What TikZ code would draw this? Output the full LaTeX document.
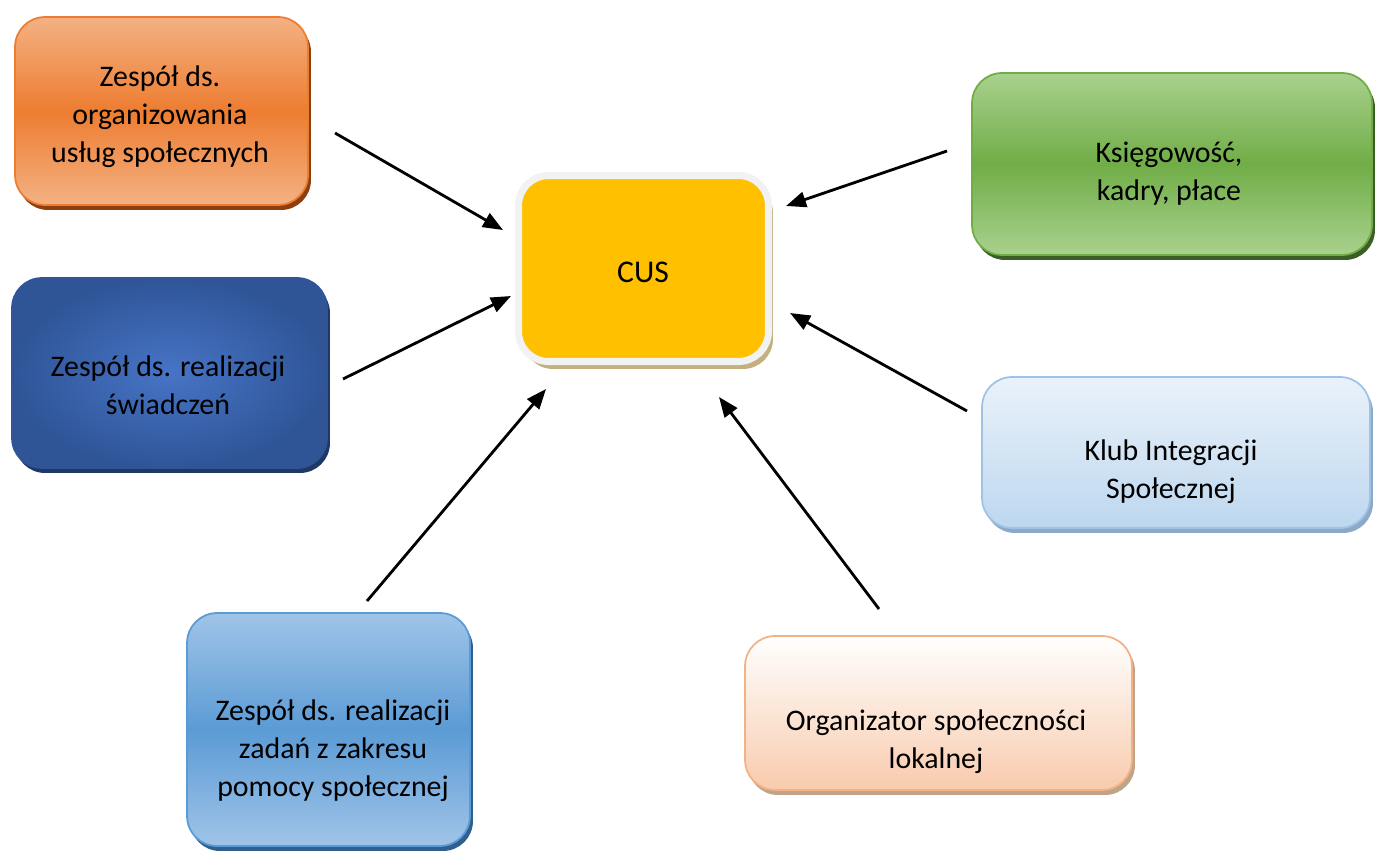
\documentclass[tikz,border=0pt]{standalone}
\usepackage{fontspec}
\setmainfont{Carlito}
\usetikzlibrary{arrows.meta,shadows}

\definecolor{orgmid}{HTML}{ED7D31}
\definecolor{orglight}{HTML}{F4B183}
\definecolor{orgshadow}{HTML}{8E3F10}
\definecolor{cusfill}{HTML}{FFC000}
\definecolor{cusrim}{HTML}{F2F2F2}
\definecolor{cusshadow}{HTML}{C3B07E}
\definecolor{greenmid}{HTML}{70AD47}
\definecolor{greenlight}{HTML}{A9D18E}
\definecolor{greenshadow}{HTML}{3B5E26}
\definecolor{navyin}{HTML}{4774C6}
\definecolor{navyout}{HTML}{2F5597}
\definecolor{navyshadow}{HTML}{1F3864}
\definecolor{skytop}{HTML}{EAF2FA}
\definecolor{skybot}{HTML}{BDD7EE}
\definecolor{skyrim}{HTML}{9DC3E6}
\definecolor{skyshadow}{HTML}{8EA9C7}
\definecolor{bluemid}{HTML}{5B9BD5}
\definecolor{bluelight}{HTML}{A0C4E8}
\definecolor{blueshadow}{HTML}{2F5F8F}
\definecolor{peachbot}{HTML}{F8CBAD}
\definecolor{peachshadow}{HTML}{BFA38A}

\tikzset{
	box/.style={rectangle, rounded corners=0.6cm, line width=1pt},
	boxshadow/.style={drop shadow={shadow xshift=0.06cm, shadow yshift=-0.1cm, fill=#1, opacity=1}},
	txt/.style={align=center, inner sep=0pt, font=\fontsize{17}{21.5}\selectfont},
	arr/.style={-{Triangle[length=0.4cm,width=0.31cm]}, line width=1.6pt},
}

\begin{document}
\begin{tikzpicture}[x=0.02cm,y=-0.02cm]
	\useasboundingbox (0,0) rectangle (1375,852);
	
	% boxes
	\node[box, boxshadow=orgshadow, draw=orgmid, top color=orglight, bottom color=orglight, middle color=orgmid, minimum width=5.86cm, minimum height=3.76cm] (org) at (161.5,111) {};
	\node[txt] (orgtxt) at (160,116.5) {Zespół ds.\\organizowania\\usług społecznych};
	
	\node[box, drop shadow={shadow xshift=0.09cm, shadow yshift=-0.15cm, fill=cusshadow, opacity=1}, draw=cusrim, line width=4pt, fill=cusfill, minimum width=5.0cm, minimum height=3.72cm] (cus) at (643.5,268.5) {};
	\node[txt, font=\fontsize{18}{22}\selectfont] (custxt) at (643,272) {CUS};
	
	\node[box, boxshadow=greenshadow, draw=greenmid, top color=greenlight, bottom color=greenlight, middle color=greenmid, minimum width=8.0cm, minimum height=3.64cm] (ksi) at (1172,164) {};
	\node[txt] (ksitxt) at (1169,173.5) {Księgowość,\\kadry, płace};
	
	\node[box, boxshadow=navyshadow, draw=navyout, inner color=navyin, outer color=navyout, minimum width=6.3cm, minimum height=3.8cm] (swi) at (169.5,373) {};
	\node[txt] (switxt) at (168,385) {Zespół ds. realizacji\\świadczeń};
	
	\node[box, boxshadow=skyshadow, draw=skyrim, top color=skytop, bottom color=skybot, minimum width=7.76cm, minimum height=3.02cm] (kis) at (1176,452.5) {};
	\node[txt] (kistxt) at (1171,471.5) {Klub Integracji\\Społecznej};
	
	\node[box, boxshadow=blueshadow, draw=bluemid, top color=bluelight, bottom color=bluelight, middle color=bluemid, minimum width=5.66cm, minimum height=4.66cm] (pom) at (328.5,729.5) {};
	\node[txt] (pomtxt) at (333,750.5) {Zespół ds. realizacji\\zadań z zakresu\\pomocy społecznej};
	
	\node[box, boxshadow=peachshadow, draw=orglight, top color=white, bottom color=peachbot, minimum width=7.74cm, minimum height=3.08cm] (osl) at (938.5,713) {};
	\node[txt] (osltxt) at (936,741.5) {Organizator społeczności\\lokalnej};
	
	% arrow ends
	\coordinate (orgA) at (335,133);  \coordinate (orgB) at (503,230);
	\coordinate (ksiA) at (947,151);  \coordinate (ksiB) at (786,206);
	\coordinate (swiA) at (343,379);  \coordinate (swiB) at (511,296);
	\coordinate (kisA) at (967,411);  \coordinate (kisB) at (790,313);
	\coordinate (pomA) at (367,601);  \coordinate (pomB) at (546,389);
	\coordinate (oslA) at (879,609);  \coordinate (oslB) at (719,397);
	
	\draw[arr] (orgA) -- (orgB);
	\draw[arr] (ksiA) -- (ksiB);
	\draw[arr] (swiA) -- (swiB);
	\draw[arr] (kisA) -- (kisB);
	\draw[arr] (pomA) -- (pomB);
	\draw[arr] (oslA) -- (oslB);
\end{tikzpicture}
\end{document}
